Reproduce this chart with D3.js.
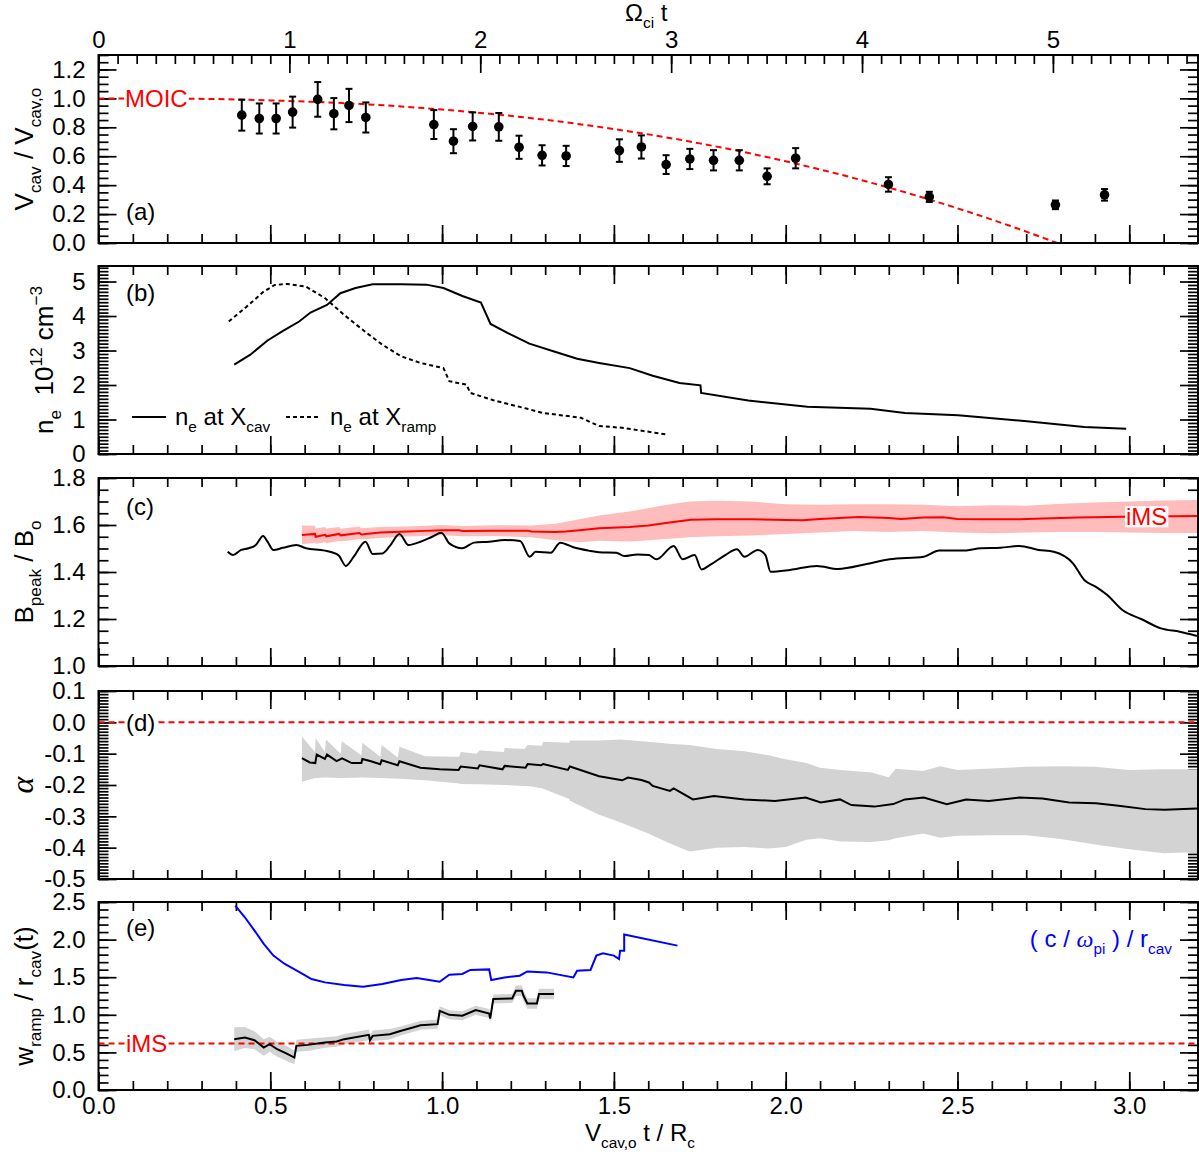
<!DOCTYPE html>
<html>
<head>
<meta charset="utf-8">
<script src="https://cdn.jsdelivr.net/npm/d3@7"></script>
<style>
  body { margin: 0; background: #fff; }
  svg text { font-family: 'Liberation Sans', Arial, Helvetica, sans-serif; white-space: pre; }
</style>
</head>
<body>
<div id="chart"></div>
<script>
// Five stacked panels sharing V_cav,o t / R_c on the x axis

// ---- data ----
// (a) normalised cavity speed with error bars
const aX   = [0.417,0.468,0.517,0.565,0.638,0.685,0.729,0.778,0.976,1.033,1.089,1.165,1.224,1.291,1.361,1.516,1.580,1.652,1.721,1.790,1.865,1.946,2.029,2.299,2.418,2.785,2.928];
const aY   = [0.884,0.861,0.861,0.905,0.993,0.894,0.951,0.868,0.819,0.704,0.806,0.803,0.662,0.606,0.602,0.639,0.664,0.542,0.581,0.572,0.572,0.461,0.586,0.405,0.319,0.264,0.333];
const aErr = [0.107,0.104,0.104,0.107,0.120,0.108,0.115,0.104,0.100,0.083,0.097,0.096,0.080,0.070,0.070,0.078,0.080,0.065,0.070,0.070,0.070,0.055,0.070,0.050,0.035,0.030,0.040];
const moicX = [0, 0.25, 0.5, 0.75, 1.0, 1.25, 1.5, 1.75, 2.0, 2.25, 2.5, 2.65, 2.79];
const moicY = [1.0, 0.998, 0.986, 0.963, 0.923, 0.866, 0.788, 0.689, 0.565, 0.416, 0.240, 0.121, 0.0];

// (b) density at cavity and at ramp
const bCav = [[0.395,2.59],[0.442,2.88],[0.492,3.29],[0.537,3.57],[0.584,3.84],[0.617,4.10],[0.665,4.32],[0.704,4.66],[0.748,4.81],[0.798,4.92],[0.881,4.92],[0.954,4.91],[1.004,4.81],[1.059,4.58],[1.113,4.39],[1.141,3.77],[1.193,3.50],[1.254,3.20],[1.326,2.97],[1.393,2.76],[1.457,2.64],[1.546,2.49],[1.613,2.27],[1.691,2.06],[1.752,1.99],[1.754,1.77],[1.891,1.55],[2.063,1.37],[2.247,1.31],[2.347,1.19],[2.502,1.12],[2.702,0.95],[2.869,0.78],[2.991,0.73]];
const bRamp = [[0.379,3.84],[0.431,4.27],[0.481,4.71],[0.513,4.90],[0.548,4.93],[0.604,4.85],[0.659,4.52],[0.715,4.03],[0.787,3.46],[0.826,3.17],[0.881,2.83],[0.937,2.64],[1.004,2.49],[1.021,2.11],[1.071,2.01],[1.082,1.77],[1.149,1.56],[1.248,1.31],[1.293,1.19],[1.404,1.05],[1.457,0.81],[1.524,0.76],[1.657,0.56]];

// (c) B_peak / B_o and the iMS value with its spread
const cPeak = [[0.376,1.486],[0.392,1.472],[0.415,1.494],[0.437,1.501],[0.458,1.515],[0.479,1.553],[0.492,1.529],[0.509,1.494],[0.537,1.503],[0.576,1.515],[0.604,1.501],[0.659,1.491],[0.698,1.472],[0.720,1.426],[0.743,1.465],[0.777,1.529],[0.798,1.477],[0.826,1.479],[0.848,1.511],[0.876,1.562],[0.902,1.515],[0.937,1.529],[0.971,1.550],[0.998,1.567],[1.021,1.522],[1.059,1.501],[1.093,1.525],[1.137,1.529],[1.182,1.536],[1.227,1.532],[1.255,1.465],[1.272,1.486],[1.316,1.482],[1.344,1.525],[1.382,1.505],[1.426,1.491],[1.457,1.484],[1.507,1.482],[1.530,1.468],[1.569,1.475],[1.602,1.472],[1.624,1.454],[1.674,1.511],[1.700,1.454],[1.735,1.472],[1.755,1.411],[1.780,1.430],[1.824,1.472],[1.858,1.497],[1.880,1.465],[1.919,1.494],[1.941,1.472],[1.956,1.401],[2.013,1.409],[2.091,1.426],[2.152,1.413],[2.236,1.434],[2.302,1.454],[2.402,1.465],[2.447,1.491],[2.514,1.491],[2.569,1.501],[2.625,1.503],[2.680,1.511],[2.736,1.494],[2.780,1.486],[2.836,1.437],[2.869,1.366],[2.903,1.337],[2.936,1.302],[2.980,1.238],[3.036,1.199],[3.092,1.160],[3.147,1.146],[3.197,1.128]];
const cIms = [[0.592,1.557],[0.630,1.562],[0.632,1.550],[0.660,1.558],[0.663,1.552],[0.700,1.562],[0.705,1.556],[0.760,1.566],[0.765,1.560],[0.820,1.568],[0.900,1.572],[0.950,1.575],[1.000,1.578],[1.050,1.578],[1.060,1.574],[1.150,1.576],[1.250,1.576],[1.260,1.572],[1.330,1.570],[1.360,1.572],[1.400,1.578],[1.457,1.586],[1.546,1.592],[1.600,1.598],[1.668,1.612],[1.724,1.622],[1.800,1.624],[1.900,1.624],[2.000,1.621],[2.050,1.620],[2.100,1.626],[2.213,1.634],[2.300,1.630],[2.336,1.626],[2.400,1.632],[2.458,1.633],[2.500,1.626],[2.569,1.624],[2.680,1.624],[2.750,1.628],[2.850,1.632],[2.980,1.635],[3.200,1.638]];
const cBand = [[0.592,1.518,1.598],[0.630,1.525,1.597],[0.632,1.520,1.585],[0.660,1.527,1.592],[0.663,1.522,1.585],[0.700,1.532,1.592],[0.705,1.530,1.584],[0.760,1.540,1.594],[0.765,1.538,1.586],[0.820,1.545,1.592],[0.900,1.551,1.594],[1.000,1.556,1.600],[1.060,1.552,1.596],[1.150,1.553,1.599],[1.260,1.548,1.598],[1.330,1.535,1.605],[1.400,1.527,1.625],[1.457,1.533,1.640],[1.550,1.530,1.658],[1.650,1.540,1.685],[1.720,1.548,1.700],[1.800,1.552,1.703],[1.900,1.555,1.700],[2.000,1.562,1.688],[2.100,1.568,1.686],[2.200,1.574,1.688],[2.300,1.570,1.688],[2.400,1.575,1.686],[2.500,1.568,1.680],[2.600,1.565,1.684],[2.700,1.568,1.682],[2.800,1.570,1.690],[2.900,1.570,1.696],[3.000,1.568,1.700],[3.100,1.566,1.704],[3.200,1.566,1.706]];

// (d) alpha and its spread
const dAlpha = [[0.592,-0.114],[0.615,-0.128],[0.631,-0.130],[0.635,-0.103],[0.659,-0.117],[0.665,-0.103],[0.693,-0.124],[0.709,-0.115],[0.737,-0.130],[0.765,-0.130],[0.768,-0.117],[0.793,-0.124],[0.820,-0.134],[0.824,-0.121],[0.871,-0.137],[0.876,-0.124],[0.937,-0.145],[0.993,-0.150],[1.048,-0.152],[1.054,-0.141],[1.104,-0.147],[1.109,-0.137],[1.176,-0.150],[1.182,-0.139],[1.243,-0.145],[1.249,-0.133],[1.288,-0.137],[1.294,-0.133],[1.366,-0.152],[1.372,-0.141],[1.457,-0.172],[1.524,-0.185],[1.541,-0.176],[1.580,-0.184],[1.602,-0.192],[1.613,-0.203],[1.663,-0.219],[1.674,-0.211],[1.730,-0.246],[1.791,-0.235],[1.880,-0.246],[1.969,-0.251],[2.058,-0.240],[2.102,-0.256],[2.158,-0.246],[2.191,-0.264],[2.258,-0.269],[2.313,-0.261],[2.347,-0.246],[2.402,-0.240],[2.469,-0.261],[2.525,-0.246],[2.591,-0.251],[2.680,-0.240],[2.747,-0.243],[2.825,-0.256],[2.903,-0.258],[2.969,-0.266],[3.047,-0.277],[3.103,-0.279],[3.197,-0.275]];
const dBand = [[0.592,-0.190,-0.045],[0.630,-0.178,-0.095],[0.632,-0.178,-0.050],[0.659,-0.176,-0.095],[0.662,-0.176,-0.055],[0.705,-0.178,-0.100],[0.708,-0.178,-0.060],[0.765,-0.176,-0.105],[0.768,-0.176,-0.065],[0.820,-0.178,-0.110],[0.824,-0.178,-0.072],[0.871,-0.180,-0.112],[0.876,-0.180,-0.078],[0.950,-0.185,-0.108],[1.050,-0.195,-0.110],[1.054,-0.197,-0.095],[1.100,-0.198,-0.100],[1.109,-0.198,-0.090],[1.180,-0.200,-0.095],[1.182,-0.200,-0.082],[1.240,-0.203,-0.085],[1.249,-0.203,-0.072],[1.290,-0.210,-0.075],[1.294,-0.212,-0.062],[1.370,-0.245,-0.065],[1.372,-0.250,-0.058],[1.457,-0.295,-0.058],[1.520,-0.320,-0.055],[1.600,-0.355,-0.062],[1.660,-0.385,-0.068],[1.720,-0.412,-0.072],[1.800,-0.400,-0.085],[1.880,-0.398,-0.092],[1.950,-0.403,-0.105],[2.000,-0.398,-0.118],[2.060,-0.375,-0.130],[2.100,-0.370,-0.145],[2.160,-0.380,-0.152],[2.250,-0.382,-0.160],[2.300,-0.376,-0.175],[2.320,-0.370,-0.148],[2.400,-0.355,-0.155],[2.450,-0.368,-0.140],[2.500,-0.362,-0.152],[2.600,-0.360,-0.147],[2.700,-0.360,-0.142],[2.800,-0.372,-0.140],[2.900,-0.390,-0.142],[3.000,-0.405,-0.152],[3.100,-0.418,-0.150],[3.200,-0.414,-0.150]];

// (e) ramp width [x, value, half spread] and ion inertial length
const eRamp = [[0.395,0.676,0.16],[0.426,0.698,0.14],[0.454,0.662,0.12],[0.481,0.564,0.11],[0.498,0.609,0.10],[0.520,0.542,0.10],[0.548,0.484,0.10],[0.570,0.431,0.09],[0.576,0.587,0.08],[0.609,0.600,0.08],[0.659,0.631,0.07],[0.693,0.644,0.07],[0.715,0.676,0.07],[0.787,0.733,0.07],[0.790,0.662,0.07],[0.798,0.720,0.07],[0.848,0.742,0.07],[0.881,0.787,0.06],[0.915,0.831,0.06],[0.937,0.862,0.06],[0.987,0.876,0.06],[0.993,1.053,0.06],[1.021,1.000,0.06],[1.059,0.987,0.06],[1.098,1.062,0.06],[1.137,1.018,0.06],[1.140,0.950,0.06],[1.149,1.209,0.06],[1.204,1.218,0.06],[1.215,1.320,0.07],[1.232,1.320,0.07],[1.237,1.253,0.07],[1.248,1.151,0.07],[1.276,1.151,0.07],[1.282,1.276,0.07],[1.326,1.276,0.07]];
const eInertial = [[0.398,2.453],[0.426,2.297],[0.454,2.120],[0.481,1.943],[0.509,1.787],[0.542,1.676],[0.581,1.577],[0.620,1.476],[0.659,1.431],[0.715,1.396],[0.770,1.373],[0.826,1.409],[0.881,1.463],[0.926,1.489],[0.993,1.440],[1.021,1.533],[1.059,1.543],[1.082,1.596],[1.137,1.604],[1.143,1.463],[1.182,1.497],[1.226,1.520],[1.248,1.577],[1.304,1.564],[1.382,1.497],[1.393,1.587],[1.432,1.596],[1.449,1.787],[1.468,1.817],[1.500,1.787],[1.515,1.742],[1.518,1.853],[1.530,1.853],[1.530,2.067],[1.685,1.920]];
const eImsLevel = 0.62;

// tick labels
const xMajor = [0, 0.5, 1.0, 1.5, 2.0, 2.5, 3.0];
const omegaMajor = [0, 1, 2, 3, 4, 5];
const aMajor = [0, 0.2, 0.4, 0.6, 0.8, 1.0, 1.2];
const bMajor = [0, 1, 2, 3, 4, 5];
const cMajor = [1.0, 1.2, 1.4, 1.6, 1.8];
const dMajor = [-0.5, -0.4, -0.3, -0.2, -0.1, 0.0, 0.1];
const eMajor = [0, 0.5, 1.0, 1.5, 2.0, 2.5];

// ---- layout ----
const width = 1199, height = 1154;
const X0 = 98.5, X1 = 1198;
const tops = [55, 266, 478, 691, 902];
const PH = 188;
const FS = 24, TFS = 26;
const RED = "#ff0000", PINK = "#ffbcbc", GREY = "#d3d3d3", BLUE = "#0000ff";

const svg = d3.select("#chart").append("svg")
  .attr("width", width).attr("height", height);
svg.append("rect").attr("width", width).attr("height", height).attr("fill", "#fff");

const x = d3.scaleLinear().domain([0, 3.2]).range([X0, X1]);
const omega = d3.scaleLinear().domain([0, 5.76]).range([X0, X1]);

// text with sub/superscripts: segs = [[text, ""|"sub"|"sup", italic?]]
function rich(sel, segs, fs, sc = 0.64) {
  let off = 0;
  segs.forEach(([t, k, it]) => {
    const target = k === "sub" ? 0.3 * fs : k === "sup" ? -0.42 * fs : 0;
    const ts = sel.append("tspan").attr("dy", target - off)
      .attr("font-size", k ? fs * sc : fs).text(t);
    if (it) ts.attr("font-style", "italic").attr("font-family", "'Liberation Serif', 'DejaVu Serif', serif");
    off = target;
  });
  return sel;
}

const fmt1 = d => d3.format(".1f")(d).replace("\u2212", "-");
const fmt0 = d3.format("d");

const specs = [
  { dom: [0, 1.3],    major: aMajor, minor: d3.range(0, 1.3001, 0.05), fmt: fmt1 },
  { dom: [0, 5.45],   major: bMajor, minor: d3.range(0, 5.45, 0.1),    fmt: fmt0 },
  { dom: [1.0, 1.8],  major: cMajor, minor: d3.range(1.0, 1.8001, 0.05), fmt: fmt1 },
  { dom: [-0.5, 0.1], major: dMajor, minor: d3.range(-0.5, 0.1001, 0.01), fmt: fmt1 },
  { dom: [0, 2.5],    major: eMajor, minor: d3.range(0, 2.5001, 0.1),  fmt: fmt1 }
];

function styleAxis(g) {
  g.select(".domain").remove();
  g.selectAll("line").attr("stroke", "#000").attr("stroke-width", 1.7);
  g.selectAll("text").attr("font-size", FS).attr("fill", "#000")
    .attr("font-family", "'Liberation Sans', Arial, Helvetica, sans-serif");
}

const xMinor = d3.range(0, 3.2001, 0.1);
const omegaMinor = d3.range(0, 5.76, 0.1);

const ys = specs.map((s, i) => {
  const top = tops[i];
  const y = d3.scaleLinear().domain(s.dom).range([top + PH, top]);
  const ax = svg.append("g");
  // left
  ax.append("g").attr("transform", `translate(${X0},0)`)
    .call(d3.axisLeft(y).tickValues(s.major).tickSizeInner(-18).tickSizeOuter(0).tickPadding(13).tickFormat(s.fmt)).call(styleAxis);
  ax.append("g").attr("transform", `translate(${X0},0)`)
    .call(d3.axisLeft(y).tickValues(s.minor).tickSizeInner(-10).tickSizeOuter(0).tickFormat("")).call(styleAxis);
  // right
  ax.append("g").attr("transform", `translate(${X1},0)`)
    .call(d3.axisRight(y).tickValues(s.major).tickSizeInner(-18).tickSizeOuter(0).tickFormat("")).call(styleAxis);
  ax.append("g").attr("transform", `translate(${X1},0)`)
    .call(d3.axisRight(y).tickValues(s.minor).tickSizeInner(-10).tickSizeOuter(0).tickFormat("")).call(styleAxis);
  // bottom
  ax.append("g").attr("transform", `translate(0,${top + PH})`)
    .call(d3.axisBottom(x).tickValues(xMajor).tickSizeInner(-18).tickSizeOuter(0).tickPadding(7)
      .tickFormat(i === 4 ? fmt1 : "")).call(styleAxis);
  ax.append("g").attr("transform", `translate(0,${top + PH})`)
    .call(d3.axisBottom(x).tickValues(xMinor).tickSizeInner(-9).tickSizeOuter(0).tickFormat("")).call(styleAxis);
  // top
  if (i === 0) {
    ax.append("g").attr("transform", `translate(0,${top})`)
      .call(d3.axisTop(omega).tickValues(omegaMajor).tickSizeInner(-18).tickSizeOuter(0).tickPadding(7).tickFormat(fmt0)).call(styleAxis);
    ax.append("g").attr("transform", `translate(0,${top})`)
      .call(d3.axisTop(omega).tickValues(omegaMinor).tickSizeInner(-9).tickSizeOuter(0).tickFormat("")).call(styleAxis);
  } else {
    ax.append("g").attr("transform", `translate(0,${top})`)
      .call(d3.axisTop(x).tickValues(xMajor).tickSizeInner(-18).tickSizeOuter(0).tickFormat("")).call(styleAxis);
    ax.append("g").attr("transform", `translate(0,${top})`)
      .call(d3.axisTop(x).tickValues(xMinor).tickSizeInner(-9).tickSizeOuter(0).tickFormat("")).call(styleAxis);
  }
  return y;
});

const [ya, yb, yc, yd, ye] = ys;
const line = (yS) => d3.line().x(d => x(d[0])).y(d => yS(d[1]));

// white-backed label helper
function label(xp, yp, segs, color, bg, fs = FS) {
  const t = svg.append("text").attr("x", xp).attr("y", yp).attr("fill", color).attr("font-size", fs);
  rich(t, segs, fs);
  if (bg) {
    const b = t.node().getBBox();
    svg.insert("rect", () => t.node()).attr("x", b.x - 1).attr("y", b.y + 3).attr("width", b.width + 2)
      .attr("height", b.height - 6).attr("fill", "#fff");
  }
  return t;
}

// ---- (a) ----
svg.append("path").datum(d3.zip(moicX, moicY)).attr("d", line(ya).curve(d3.curveMonotoneX))
  .attr("fill", "none").attr("stroke", RED).attr("stroke-width", 2).attr("stroke-dasharray", "6,4");
label(125, ya(1.0) + 8.5, [["MOIC"]], RED, true);
const pa = svg.append("g");
aX.forEach((xv, i) => {
  const cx = x(xv), y1 = ya(aY[i] - aErr[i]), y2 = ya(aY[i] + aErr[i]);
  pa.append("line").attr("x1", cx).attr("x2", cx).attr("y1", y1).attr("y2", y2).attr("stroke", "#000").attr("stroke-width", 2);
  pa.append("line").attr("x1", cx - 3.5).attr("x2", cx + 3.5).attr("y1", y1).attr("y2", y1).attr("stroke", "#000").attr("stroke-width", 2);
  pa.append("line").attr("x1", cx - 3.5).attr("x2", cx + 3.5).attr("y1", y2).attr("y2", y2).attr("stroke", "#000").attr("stroke-width", 2);
  pa.append("circle").attr("cx", cx).attr("cy", ya(aY[i])).attr("r", 4.8).attr("fill", "#000");
});

// ---- (b) ----
svg.append("path").datum(bCav).attr("d", line(yb)).attr("fill", "none").attr("stroke", "#000").attr("stroke-width", 2);
svg.append("path").datum(bRamp).attr("d", line(yb)).attr("fill", "none").attr("stroke", "#000").attr("stroke-width", 2).attr("stroke-dasharray", "4,3");
const legY = 417;
svg.append("line").attr("x1", 132).attr("x2", 166).attr("y1", legY).attr("y2", legY).attr("stroke", "#000").attr("stroke-width", 2);
label(175, legY + 8, [["n"], ["e", "sub"], [" at X"], ["cav", "sub"]], "#000", false);
svg.append("line").attr("x1", 286).attr("x2", 320).attr("y1", legY).attr("y2", legY).attr("stroke", "#000").attr("stroke-width", 2).attr("stroke-dasharray", "4,3");
label(330, legY + 8, [["n"], ["e", "sub"], [" at X"], ["ramp", "sub"]], "#000", false);

// ---- (c) ----
svg.append("path").datum(cBand)
  .attr("d", d3.area().x(d => x(d[0])).y0(d => yc(d[1])).y1(d => yc(d[2])))
  .attr("fill", PINK);
svg.append("path").datum(cIms).attr("d", line(yc)).attr("fill", "none").attr("stroke", RED).attr("stroke-width", 2);
svg.append("path").datum(cPeak).attr("d", line(yc).curve(d3.curveMonotoneX)).attr("fill", "none").attr("stroke", "#000").attr("stroke-width", 2);
label(1126, yc(1.635) + 8.5, [["iMS"]], RED, true);

// ---- (d) ----
svg.append("path").datum(dBand)
  .attr("d", d3.area().x(d => x(d[0])).y0(d => yd(d[1])).y1(d => yd(d[2])))
  .attr("fill", GREY);
svg.append("line").attr("x1", X0).attr("x2", X1).attr("y1", yd(0)).attr("y2", yd(0))
  .attr("stroke", RED).attr("stroke-width", 2).attr("stroke-dasharray", "6,4");
svg.append("path").datum(dAlpha).attr("d", line(yd)).attr("fill", "none").attr("stroke", "#000").attr("stroke-width", 2);

// ---- (e) ----
svg.append("path").datum(eRamp)
  .attr("d", d3.area().x(d => x(d[0])).y0(d => ye(d[1] - d[2])).y1(d => ye(d[1] + d[2])))
  .attr("fill", GREY);
svg.append("line").attr("x1", X0).attr("x2", X1).attr("y1", ye(eImsLevel)).attr("y2", ye(eImsLevel))
  .attr("stroke", RED).attr("stroke-width", 2).attr("stroke-dasharray", "6,4");
svg.append("path").datum(eRamp).attr("d", line(ye)).attr("fill", "none").attr("stroke", "#000").attr("stroke-width", 2);
svg.append("path").datum(eInertial).attr("d", line(ye)).attr("fill", "none").attr("stroke", BLUE).attr("stroke-width", 2);
label(126, ye(eImsLevel) + 8.5, [["iMS"]], RED, true);
label(1172, 947, [["( c / "], ["\u03c9", "", true], ["pi", "sub"], [" ) / r"], ["cav", "sub"]], BLUE, false)
  .attr("text-anchor", "end");

// panel letters
label(126, 220, [["(a)"]], "#000", false);
label(126, 301, [["(b)"]], "#000", false);
label(126, 515, [["(c)"]], "#000", false);
label(126, yd(0) + 8.5, [["(d)"]], "#000", true);
label(126, 936, [["(e)"]], "#000", false);

// frames
tops.forEach(t => svg.append("rect").attr("x", X0).attr("y", t).attr("width", X1 - X0).attr("height", PH)
  .attr("fill", "none").attr("stroke", "#000").attr("stroke-width", 2));

// axis titles
function yTitle(i, segs, bx, fs = TFS) {
  const t = svg.append("text").attr("text-anchor", "middle").attr("font-size", fs)
    .attr("transform", `translate(${bx},${tops[i] + PH / 2}) rotate(-90)`);
  rich(t, segs, fs, 0.66);
  return t;
}
yTitle(0, [["V"], ["cav", "sub"], [" / V"], ["cav,o", "sub"]], 33);
yTitle(1, [["n"], ["e", "sub"], ["  10"], ["12", "sup"], [" cm"], ["\u22123", "sup"]], 53);
yTitle(2, [["B"], ["peak", "sub"], [" / B"], ["o", "sub"]], 33);
yTitle(3, [["\u03b1", "", true]], 33, 32);
yTitle(4, [["w"], ["ramp", "sub"], [" / r"], ["cav", "sub"], ["(t)"]], 33);

label(585, 1141, [["V"], ["cav,o", "sub"], [" t / R"], ["c", "sub"]], "#000", false);
label(625, 21, [["\u03a9"], ["ci", "sub"], [" t"]], "#000", false);
</script>
</body>
</html>
